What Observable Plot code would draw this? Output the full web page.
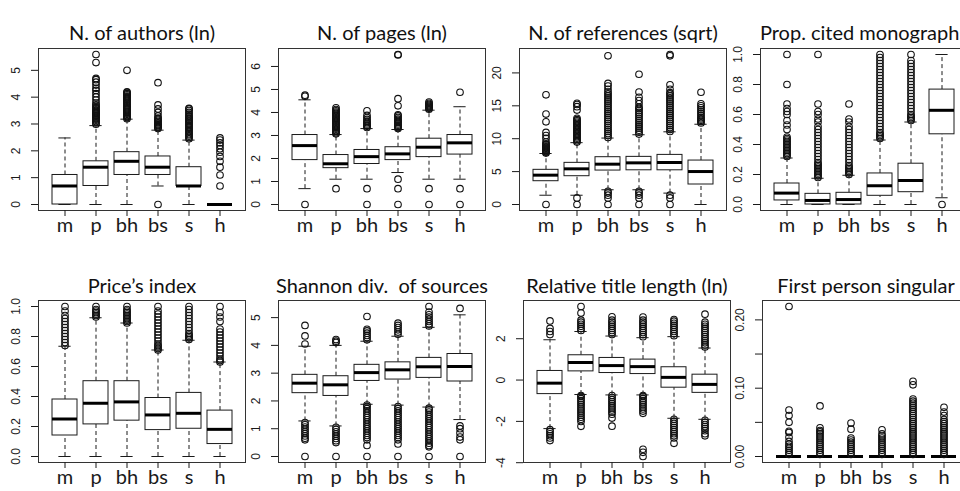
<!DOCTYPE html>
<html><head><meta charset="utf-8">
<script src="https://cdn.jsdelivr.net/npm/d3@7"></script>
<script src="https://cdn.jsdelivr.net/npm/@observablehq/plot@0.6"></script>
<style>
body{margin:0;background:#fff;}
#wrap{position:relative;width:960px;height:491px;overflow:hidden;background:#fff;}
#wrap svg{position:absolute;background:transparent;overflow:visible;max-width:none;}
</style></head><body><div id="wrap"></div>
<script>
const groups = ["m","p","bh","bs","s","h"];
const titles = ["N. of authors (ln)","N. of pages (ln)","N. of references (sqrt)","Prop. cited monographs",
  "Price\u2019s index","Shannon div.  of sources","Relative title length (ln)","First person singular"];

// each row: [lower whisker, Q1, median, Q3, upper whisker]
const authorsStats = [[0,0,0.69,1.1,2.48],[0,0.69,1.39,1.61,2.94],[0,1.1,1.61,1.95,3.18],[0.69,1.1,1.39,1.79,2.77],[0,0.69,0.69,1.39,2.4],[0,0,0,0,0]];
const authorsOutliers = [
 [],
 [2.99,3.04,3.09,3.14,3.18,3.22,3.26,3.3,3.33,3.37,3.4,3.43,3.47,3.5,3.56,3.61,3.66,3.71,3.78,3.89,4.01,4.13,4.25,4.33,4.45,4.56,4.65,4.7,5.29,5.59],
 [3.2,3.24,3.28,3.32,3.36,3.4,3.44,3.48,3.52,3.56,3.6,3.64,3.68,3.71,3.76,3.81,3.85,3.89,3.93,3.97,4.01,4.04,4.09,4.13,4.17,4.2,5.0],
 [0,2.83,2.87,2.9,2.94,2.97,3.0,3.04,3.09,3.14,3.18,3.22,3.3,3.43,3.56,3.71,4.54],
 [2.45,2.5,2.55,2.6,2.64,2.7,2.75,2.8,2.85,2.9,2.94,3.0,3.04,3.09,3.14,3.18,3.22,3.26,3.3,3.37,3.43,3.5,3.56,3.58],
 [0.69,1.1,1.39,1.61,1.79,1.95,2.08,2.2,2.3,2.4,2.48]];

const pagesStats = [[0.69,1.93,2.56,3.02,4.55],[1.1,1.58,1.77,2.15,3.04],[1.1,1.76,2.08,2.37,3.3],[1.39,1.93,2.2,2.49,3.26],[1.1,2.06,2.49,2.86,4.1],[1.1,2.17,2.68,3.02,4.25]];
const pagesOutliers = [
 [0,4.7,4.75],
 [0.69,3.07,3.12,3.17,3.22,3.27,3.32,3.37,3.42,3.47,3.52,3.57,3.62,3.67,3.72,3.77,3.82,3.87,3.92,3.97,4.02,4.07,4.13,4.2],
 [0,0.69,3.35,3.4,3.45,3.5,3.56,3.62,3.7,3.78,3.87,4.07],
 [0,0.69,1.1,3.3,3.35,3.4,3.45,3.5,3.56,3.61,3.66,3.71,3.78,3.85,3.9,4.29,4.6,6.5,6.52],
 [0,0.69,4.14,4.18,4.22,4.26,4.3,4.35,4.4,4.45],
 [0,0.69,4.88]];

const refsStats = [[1.41,3.54,4.46,5.27,7.75],[1.41,4.3,5.42,6.33,9.4],[2.24,5.16,6.13,7.19,10.1],[2.24,5.2,6.33,7.24,10.6],[1.73,5.2,6.38,7.54,11.05],[0,3.04,5.01,6.68,12.2]];
const refsOutliers = [
 [0,7.81,7.94,8.06,8.19,8.31,8.43,8.54,8.66,8.77,8.89,9.06,9.22,9.49,10.05,10.49,10.95,12.57,13.75,16.67],
 [0,1,9.49,9.7,9.9,10.1,10.3,10.5,10.7,10.9,11.1,11.3,11.5,11.7,11.9,12.1,12.3,12.5,12.7,12.9,13.1,14.35,14.87,15.2,15.39],
 [0,1,1.41,1.73,2,10.2,10.5,10.8,11.1,11.4,11.7,12,12.3,12.6,12.9,13.2,13.5,13.8,14.1,14.4,14.7,15,15.3,15.6,15.9,16.2,16.5,16.8,17.1,17.5,18,18.4,22.6],
 [0,1,1.41,1.73,2,10.7,11,11.3,11.6,11.9,12.2,12.5,12.8,13.1,13.4,13.7,14,14.3,14.6,14.8,15.3,15.8,16.3,17.1,19.8],
 [0,1,1.41,11.1,11.4,11.7,12,12.3,12.6,12.9,13.2,13.5,13.8,14.1,14.4,14.7,15,15.3,15.6,15.9,16.2,16.5,16.8,17,17.5,18.2,22.6,22.8],
 [12.4,12.6,12.8,13,13.2,13.5,13.8,14.1,14.4,14.7,15,15.3,17.06]];

const monoStats = [[0,0.027,0.076,0.14,0.31],[0,0,0.027,0.071,0.175],[0,0,0.033,0.078,0.195],[0,0.058,0.125,0.207,0.43],[0,0.082,0.16,0.272,0.55],[0.045,0.468,0.628,0.766,1.0]];
const monoOutliers = [
 [0.32,0.33,0.34,0.35,0.36,0.37,0.38,0.39,0.4,0.41,0.42,0.43,0.44,0.45,0.5,0.53,0.56,0.6,0.62,0.64,0.67,0.8,1],
 [0.18,0.19,0.2,0.21,0.22,0.23,0.24,0.25,0.26,0.27,0.28,0.3,0.32,0.34,0.36,0.38,0.4,0.42,0.44,0.46,0.48,0.5,0.52,0.55,0.57,0.6,0.62,0.67,1],
 [0.2,0.21,0.22,0.23,0.24,0.25,0.26,0.28,0.3,0.32,0.34,0.36,0.38,0.4,0.42,0.44,0.46,0.48,0.5,0.52,0.55,0.57,0.67],
 [0.44,0.45,0.46,0.47,0.48,0.5,0.52,0.54,0.56,0.58,0.6,0.62,0.64,0.66,0.68,0.7,0.72,0.74,0.76,0.78,0.8,0.82,0.84,0.86,0.88,0.9,0.92,0.94,0.96,0.98,1],
 [0.56,0.57,0.58,0.59,0.6,0.62,0.64,0.66,0.68,0.7,0.72,0.74,0.76,0.78,0.8,0.82,0.84,0.86,0.88,0.9,0.92,0.94,0.96,1],
 [0]];

const priceStats = [[0,0.14,0.25,0.38,0.735],[0,0.214,0.355,0.502,0.925],[0,0.239,0.364,0.502,0.89],[0,0.176,0.277,0.39,0.71],[0,0.185,0.288,0.424,0.775],[0,0.083,0.181,0.306,0.63]];
const priceOutliers = [
 [0.74,0.76,0.78,0.8,0.82,0.84,0.86,0.88,0.9,0.92,0.94,0.97,1],
 [0.93,0.94,0.95,0.96,0.97,0.98,1],
 [0.89,0.9,0.91,0.92,0.93,0.94,0.95,0.96,0.97,0.98,1],
 [0.71,0.72,0.73,0.74,0.75,0.77,0.79,0.81,0.83,0.85,0.87,0.89,0.91,0.93,0.95,0.97,1],
 [0.78,0.79,0.8,0.81,0.82,0.84,0.86,0.88,0.9,0.92,0.94,0.96,0.98,1],
 [0.63,0.64,0.65,0.67,0.69,0.71,0.73,0.75,0.77,0.79,0.81,0.83,0.85,0.9,0.93,0.96,1]];

const shannonStats = [[1.28,2.28,2.64,2.94,3.97],[1.1,2.18,2.58,2.89,4.0],[1.88,2.72,3.02,3.3,4.15],[1.85,2.77,3.12,3.39,4.33],[1.78,2.83,3.23,3.55,4.65],[1.33,2.7,3.24,3.69,5.1]];
const shannonOutliers = [
 [0,0.6,0.66,0.74,0.82,0.9,0.98,1.06,1.14,1.22,4.05,4.34,4.72],
 [0,0.5,0.57,0.65,0.73,0.81,0.89,0.97,1.05,4.1,4.15,4.21],
 [0,0.4,0.6,0.68,0.76,0.84,0.92,1,1.08,1.16,1.24,1.32,1.4,1.48,1.56,1.64,1.72,1.8,1.85,4.2,4.28,4.36,4.44,4.52,4.58,5.04],
 [0,0.45,0.6,0.68,0.76,0.84,0.92,1,1.08,1.16,1.24,1.32,1.4,1.48,1.56,1.64,1.72,1.8,4.4,4.48,4.56,4.64,4.72,4.8],
 [0,0.35,0.4,0.48,0.56,0.64,0.72,0.8,0.88,0.96,1.04,1.12,1.2,1.28,1.36,1.44,1.52,1.6,1.68,1.74,4.7,4.78,4.86,4.94,5.02,5.1,5.2,5.4],
 [0,0.6,0.7,0.85,1,1.1,5.33]];

const titleLenStats = [[-2.35,-0.68,-0.15,0.44,1.95],[-0.7,0.42,0.85,1.2,2.35],[-0.72,0.34,0.7,1.07,2.13],[-0.72,0.29,0.65,0.99,2.05],[-1.85,-0.37,0.13,0.62,2.1],[-1.9,-0.62,-0.21,0.26,1.55]];
const titleLenOutliers = [
 [-2.93,-2.8,-2.7,-2.6,-2.5,-2.4,2.2,2.35,2.5,2.86],
 [-2.24,-2.0,-1.9,-1.8,-1.7,-1.6,-1.5,-1.4,-1.3,-1.2,-1.1,-1.0,-0.9,-0.8,-0.75,2.4,2.5,2.6,2.7,2.8,2.9,3.24,3.56],
 [-2.23,-1.84,-1.65,-1.55,-1.45,-1.35,-1.25,-1.15,-1.05,-0.95,-0.85,-0.75,2.2,2.3,2.4,2.5,2.6,2.7,2.8,2.9,3.06],
 [-3.7,-3.5,-3.35,-1.61,-1.5,-1.4,-1.3,-1.2,-1.1,-1.0,-0.9,-0.8,-0.75,2.1,2.2,2.3,2.4,2.5,2.6,2.7,2.8,2.9,3.05],
 [-3.06,-2.8,-2.7,-2.6,-2.5,-2.4,-2.3,-2.2,-2.1,-2.0,-1.9,2.15,2.25,2.35,2.45,2.55,2.65,2.75,2.85,2.93],
 [-2.7,-2.6,-2.45,-2.35,-2.25,-2.15,-2.05,-1.95,1.6,1.7,1.8,1.9,2.0,2.1,2.2,2.3,2.4,2.5,2.6,2.7,2.8,3.19]];

const firstStats = [[0,0,0,0,0],[0,0,0,0,0],[0,0,0,0,0],[0,0,0,0,0],[0,0,0,0,0],[0,0,0,0,0]];
const firstOutliers = [
 [0.003,0.006,0.009,0.012,0.015,0.018,0.022,0.028,0.035,0.037,0.05,0.06,0.068,0.2196],
 [0.003,0.006,0.009,0.012,0.015,0.018,0.021,0.024,0.027,0.03,0.033,0.036,0.038,0.042,0.074],
 [0.003,0.006,0.009,0.012,0.015,0.018,0.021,0.024,0.027,0.04,0.049],
 [0.003,0.006,0.009,0.012,0.015,0.018,0.021,0.024,0.027,0.03,0.033,0.039],
 [0.003,0.006,0.009,0.012,0.015,0.018,0.021,0.024,0.027,0.03,0.033,0.036,0.039,0.042,0.045,0.048,0.051,0.054,0.057,0.06,0.063,0.066,0.069,0.072,0.075,0.078,0.081,0.084,0.105,0.11],
 [0.003,0.006,0.009,0.012,0.015,0.018,0.021,0.024,0.027,0.03,0.033,0.036,0.039,0.042,0.045,0.048,0.051,0.054,0.06,0.065,0.072]];

const authorsTicks = [0,1,2,3,4,5];        const authorsLabels = ["0","1","2","3","4","5"];
const pagesTicks = [0,1,2,3,4,5,6];        const pagesLabels = ["0","1","2","3","4","5","6"];
const refsTicks = [0,5,10,15,20];          const refsLabels = ["0","5","10","15","20"];
const propTicks = [0,0.2,0.4,0.6,0.8,1];   const propLabels = ["0.0","0.2","0.4","0.6","0.8","1.0"];
const shannonTicks = [0,1,2,3,4,5];        const shannonLabels = ["0","1","2","3","4","5"];
const titleLenTicks = [-4,-2,0,2];         const titleLenLabels = ["-4","-2","0","2"];
const firstTicks = [0,0.05,0.1,0.15,0.2];  const firstLabels = ["0.00","","0.10","","0.20"];

const panels = [
  {stats: authorsStats, out: authorsOutliers, ticks: authorsTicks, labels: authorsLabels},
  {stats: pagesStats, out: pagesOutliers, ticks: pagesTicks, labels: pagesLabels},
  {stats: refsStats, out: refsOutliers, ticks: refsTicks, labels: refsLabels},
  {stats: monoStats, out: monoOutliers, ticks: propTicks, labels: propLabels},
  {stats: priceStats, out: priceOutliers, ticks: propTicks, labels: propLabels},
  {stats: shannonStats, out: shannonOutliers, ticks: shannonTicks, labels: shannonLabels},
  {stats: titleLenStats, out: titleLenOutliers, ticks: titleLenTicks, labels: titleLenLabels},
  {stats: firstStats, out: firstOutliers, ticks: firstTicks, labels: firstLabels}
];

// layout (frame left edges in page pixels)
const frameLefts = [38, 278, 519, 760, 38, 278, 523, 762];
const ML = 38, PW = 207, MR = 8;
const wrap = document.getElementById("wrap");
const ink = "#1a1a1a";

panels.forEach((p, i) => {
  const row = i < 4 ? 0 : 1;
  const boxes = groups.map((g, j) => ({g, lo: p.stats[j][0], q1: p.stats[j][1], med: p.stats[j][2], q3: p.stats[j][3], hi: p.stats[j][4]}));
  const outs = groups.flatMap((g, j) => p.out[j].map(v => ({g, v})));
  const all = [...p.stats.flat(), ...p.out.flat()];
  const [mn, mx] = d3.extent(all);
  const pad = (mx - mn) * 0.04;
  const mt = row === 0 ? 48 : 55;
  const H = row === 0 ? 245 : 246;
  const mb = row === 0 ? 35 : 29;
  const bw = PW / 6.48 * 0.8;
  const chart = Plot.plot({
    width: ML + PW + MR, height: H,
    marginLeft: ML, marginRight: MR, marginTop: mt, marginBottom: mb,
    style: {background: "transparent", overflow: "visible", fontFamily: "'Liberation Sans', Arial, sans-serif", color: ink},
    x: {type: "band", domain: groups, paddingInner: 0.2, paddingOuter: 0.34, label: null},
    y: {domain: [mn - pad, mx + pad], label: null},
    marks: [
      Plot.ruleX(boxes, {x: "g", y1: "q3", y2: "hi", stroke: ink, strokeWidth: 1, strokeDasharray: "4,3"}),
      Plot.ruleX(boxes, {x: "g", y1: "lo", y2: "q1", stroke: ink, strokeWidth: 1, strokeDasharray: "4,3"}),
      Plot.tickY(boxes, {x: "g", y: "hi", stroke: ink, insetLeft: bw / 4, insetRight: bw / 4}),
      Plot.tickY(boxes, {x: "g", y: "lo", stroke: ink, insetLeft: bw / 4, insetRight: bw / 4}),
      Plot.barY(boxes, {x: "g", y1: "q1", y2: "q3", fill: "white", stroke: ink, strokeWidth: 1}),
      Plot.tickY(boxes, {x: "g", y: "med", stroke: "#000", strokeWidth: 3}),
      Plot.dot(outs, {x: "g", y: "v", r: 3.3, stroke: "#111", strokeWidth: 1.1, fill: "none"}),
      Plot.frame({stroke: "#333"}),
      Plot.axisY({ticks: p.ticks, tickFormat: d => p.labels[p.ticks.indexOf(d)], tickSize: 7, tickRotate: -90, tickPadding: 12, fontSize: 12, label: null}),
      Plot.axisX({tickSize: 6, tickPadding: 1, fontSize: 20, fontFamily: "Lato", label: null}),
      Plot.text([titles[i]], {frameAnchor: "top", dy: row === 0 ? -23 : -22, fontSize: 20, fontFamily: "Lato", fill: "#111"})
    ]
  });
  chart.style.left = (frameLefts[i] - ML) + "px";
  chart.style.top = (row === 0 ? 0 : 245) + "px";
  wrap.appendChild(chart);
});
</script></body></html>
